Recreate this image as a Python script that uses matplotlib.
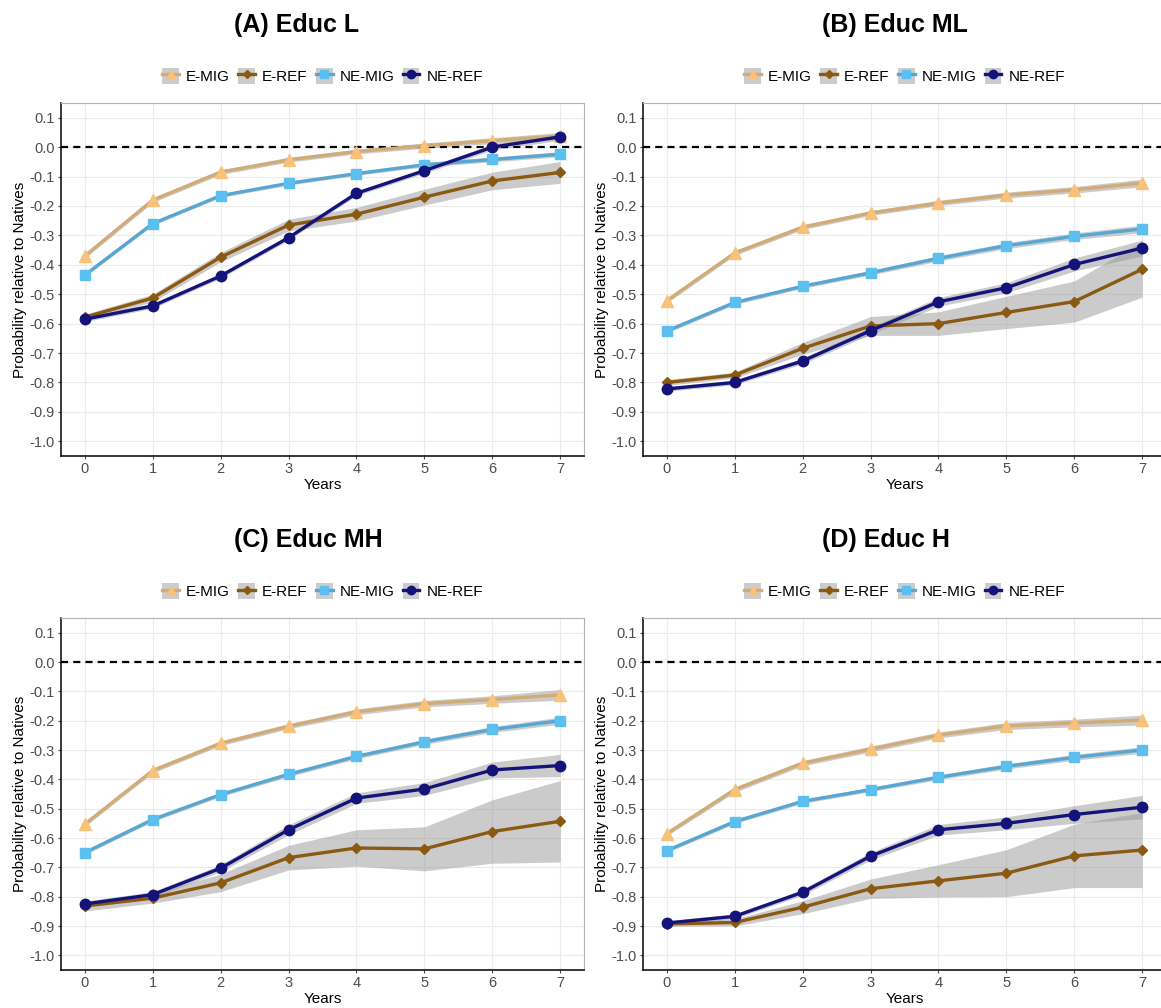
import matplotlib
matplotlib.use("Agg")
import matplotlib.pyplot as plt
import numpy as np
from matplotlib.patches import Patch
from matplotlib.lines import Line2D
from matplotlib.legend_handler import HandlerTuple

plt.rcParams["font.family"] = ["Liberation Sans", "DejaVu Sans"]

YEARS = [0, 1, 2, 3, 4, 5, 6, 7]
SERIES = ["E-MIG", "E-REF", "NE-MIG", "NE-REF"]
TITLES = ["(A) Educ L", "(B) Educ ML", "(C) Educ MH", "(D) Educ H"]
Y_TICKS = [0.1, 0.0, -0.1, -0.2, -0.3, -0.4, -0.5, -0.6, -0.7, -0.8, -0.9, -1.0]

# point estimates per panel, order E-MIG, E-REF, NE-MIG, NE-REF
A_EMIG = [-0.370, -0.180, -0.085, -0.043, -0.015, 0.005, 0.022, 0.038]
A_EREF = [-0.578, -0.513, -0.374, -0.265, -0.228, -0.170, -0.115, -0.086]
A_NEMIG = [-0.435, -0.260, -0.165, -0.123, -0.090, -0.060, -0.042, -0.024]
A_NEREF = [-0.585, -0.540, -0.438, -0.308, -0.157, -0.080, 0.000, 0.035]

B_EMIG = [-0.522, -0.360, -0.272, -0.224, -0.190, -0.163, -0.145, -0.122]
B_EREF = [-0.800, -0.775, -0.684, -0.608, -0.600, -0.562, -0.525, -0.415]
B_NEMIG = [-0.625, -0.528, -0.473, -0.427, -0.378, -0.335, -0.303, -0.278]
B_NEREF = [-0.822, -0.800, -0.727, -0.624, -0.526, -0.478, -0.399, -0.343]

C_EMIG = [-0.553, -0.370, -0.277, -0.219, -0.170, -0.142, -0.128, -0.112]
C_EREF = [-0.832, -0.805, -0.753, -0.667, -0.634, -0.637, -0.578, -0.543]
C_NEMIG = [-0.650, -0.537, -0.452, -0.383, -0.322, -0.272, -0.230, -0.200]
C_NEREF = [-0.825, -0.793, -0.703, -0.572, -0.464, -0.433, -0.368, -0.353]

D_EMIG = [-0.585, -0.435, -0.345, -0.297, -0.249, -0.218, -0.208, -0.198]
D_EREF = [-0.893, -0.888, -0.836, -0.773, -0.746, -0.720, -0.661, -0.641]
D_NEMIG = [-0.643, -0.544, -0.475, -0.435, -0.393, -0.356, -0.325, -0.300]
D_NEREF = [-0.890, -0.867, -0.785, -0.662, -0.572, -0.550, -0.520, -0.495]

# half-widths of the confidence bands
A_EMIG_CI = [0.008, 0.008, 0.008, 0.008, 0.008, 0.009, 0.010, 0.012]
A_EREF_CI = [0.010, 0.013, 0.016, 0.020, 0.023, 0.027, 0.030, 0.037]
A_NEMIG_CI = [0.006, 0.006, 0.006, 0.006, 0.006, 0.007, 0.008, 0.009]
A_NEREF_CI = [0.008, 0.008, 0.008, 0.008, 0.008, 0.009, 0.010, 0.012]

B_EMIG_CI = [0.008, 0.008, 0.008, 0.008, 0.009, 0.010, 0.011, 0.013]
B_EREF_CI = [0.010, 0.010, 0.020, 0.032, 0.040, 0.055, 0.070, 0.095]
B_NEMIG_CI = [0.007, 0.007, 0.007, 0.008, 0.009, 0.010, 0.011, 0.013]
B_NEREF_CI = [0.008, 0.008, 0.010, 0.012, 0.015, 0.017, 0.022, 0.027]

C_EMIG_CI = [0.008, 0.008, 0.008, 0.009, 0.010, 0.011, 0.013, 0.018]
C_EREF_CI = [0.017, 0.017, 0.030, 0.042, 0.062, 0.075, 0.108, 0.139]
C_NEMIG_CI = [0.007, 0.007, 0.007, 0.008, 0.008, 0.009, 0.010, 0.012]
C_NEREF_CI = [0.010, 0.010, 0.012, 0.017, 0.018, 0.022, 0.027, 0.038]

D_EMIG_CI = [0.008, 0.009, 0.009, 0.010, 0.010, 0.012, 0.013, 0.017]
D_EREF_CI = [0.008, 0.012, 0.022, 0.033, 0.055, 0.080, 0.108, 0.128]
D_NEMIG_CI = [0.007, 0.007, 0.007, 0.007, 0.008, 0.009, 0.010, 0.011]
D_NEREF_CI = [0.008, 0.008, 0.010, 0.013, 0.018, 0.022, 0.030, 0.040]

LINE_COLORS = ["#D2AC77", "#8B5A12", "#57A7D2", "#14137A"]
MARKER_COLORS = ["#F9C27A", "#8B5A12", "#5BC0F0", "#14137A"]
MARKERS = ["^", "D", "s", "o"]
MARKER_SIZES = [8, 5, 7, 7.5]

PANELS = [
    (TITLES[0], [A_EMIG, A_EREF, A_NEMIG, A_NEREF], [A_EMIG_CI, A_EREF_CI, A_NEMIG_CI, A_NEREF_CI]),
    (TITLES[1], [B_EMIG, B_EREF, B_NEMIG, B_NEREF], [B_EMIG_CI, B_EREF_CI, B_NEMIG_CI, B_NEREF_CI]),
    (TITLES[2], [C_EMIG, C_EREF, C_NEMIG, C_NEREF], [C_EMIG_CI, C_EREF_CI, C_NEMIG_CI, C_NEREF_CI]),
    (TITLES[3], [D_EMIG, D_EREF, D_NEMIG, D_NEREF], [D_EMIG_CI, D_EREF_CI, D_NEMIG_CI, D_NEREF_CI]),
]

W, H = 1161, 1008
# panel boxes in pixels: left, top, right, bottom
BOXES = [(61, 103, 584, 456), (643, 103, 1166, 456), (61, 618, 584, 970), (643, 618, 1166, 970)]
TITLE_X = [234, 822, 234, 822]


def main():
    fig = plt.figure(figsize=(W / 100, H / 100), dpi=100)
    x = np.array(YEARS)

    for i, (title, vals, cis) in enumerate(PANELS):
        l, t, r, b = BOXES[i]
        ax = fig.add_axes([l / W, 1 - b / H, (r - l) / W, (b - t) / H])

        for k in range(len(SERIES)):
            y = np.array(vals[k])
            ci = np.array(cis[k])
            ax.fill_between(x, y - ci, y + ci, color="#999999", alpha=0.5, lw=0, zorder=1)
        ax.axhline(0, color="black", ls=(0, (3.2, 2.3)), lw=1.6, zorder=2)
        for k in range(len(SERIES)):
            ax.plot(x, vals[k], color=LINE_COLORS[k], lw=2.4, marker=MARKERS[k],
                    ms=MARKER_SIZES[k], mfc=MARKER_COLORS[k], mec=MARKER_COLORS[k],
                    zorder=3 + k)

        ax.set_xlim(-0.35, 7.35)
        ax.set_ylim(-1.05, 0.15)
        ax.set_xticks(YEARS)
        ax.set_yticks(Y_TICKS)
        ax.set_yticklabels([f"{v:.1f}" for v in Y_TICKS])
        ax.grid(True, color="#EBEBEB", lw=0.8)
        ax.set_axisbelow(True)
        ax.tick_params(labelsize=10.5, colors="#4D4D4D", length=2.5, width=0.8, pad=2)
        for s in ["top", "right"]:
            ax.spines[s].set_color("#B3B3B3")
        for s in ["left", "bottom"]:
            ax.spines[s].set_color("black")
            ax.spines[s].set_linewidth(1.1)
        ax.set_xlabel("Years", fontsize=11, labelpad=1)
        ax.set_ylabel("Probability relative to Natives", fontsize=11, labelpad=2)

        fig.text(TITLE_X[i] / W, 1 - (t - 78) / H, title, fontsize=18, fontweight="bold",
                 ha="left", va="center")

        handles = []
        for k in range(len(SERIES)):
            box = Patch(facecolor="#CCCCCC", edgecolor="none")
            ln = Line2D([], [], color=LINE_COLORS[k], lw=2.4, marker=MARKERS[k],
                        ms=MARKER_SIZES[k] * 0.8, mfc=MARKER_COLORS[k], mec=MARKER_COLORS[k])
            handles.append((box, ln))
        fig.legend(handles, SERIES, loc="center", ncol=4, frameon=False,
                   bbox_to_anchor=((l + r) / 2 / W, 1 - (t - 27) / H),
                   handler_map={tuple: HandlerTuple(ndivide=1, pad=0)},
                   fontsize=11, handlelength=1.1, handleheight=1.2,
                   handletextpad=0.45, columnspacing=0.55)

    fig.savefig("out.png", dpi=100)
    plt.close(fig)


if __name__ == "__main__":
    main()
